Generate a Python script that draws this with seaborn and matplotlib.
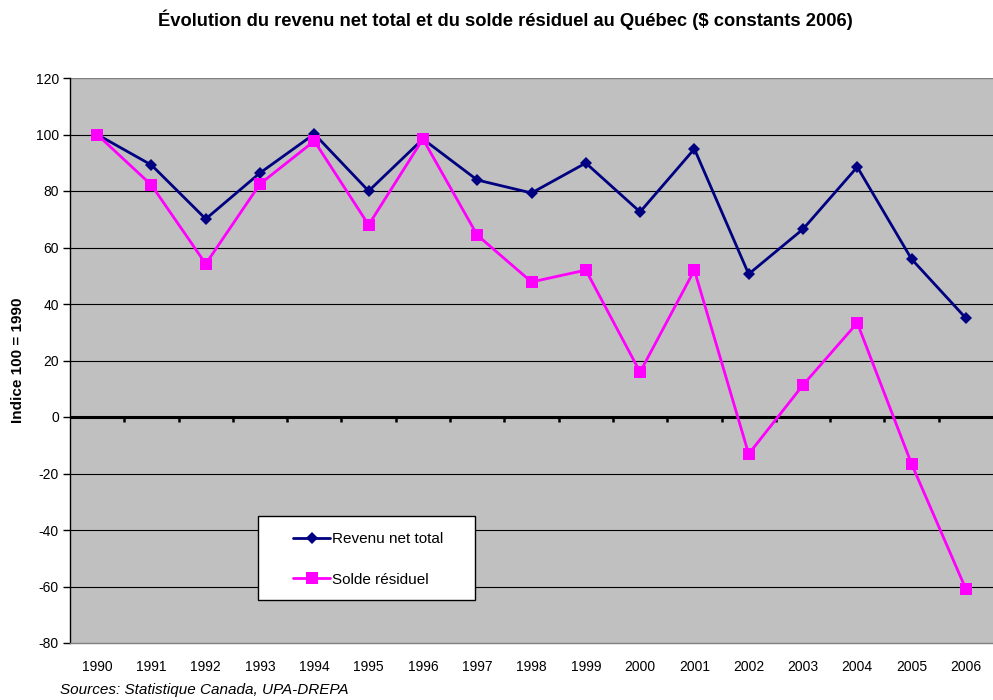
import matplotlib
matplotlib.use("Agg")
import matplotlib.pyplot as plt
import seaborn as sns
import pandas as pd
import numpy as np
from matplotlib.lines import Line2D
from matplotlib.patches import Rectangle

years = [str(y) for y in range(1990, 2007)]
revenu = [100, 89.2, 70.1, 86.4, 100.2, 80.0, 98.4, 83.9, 79.3, 89.9, 72.6, 94.9, 50.6, 66.5, 88.5, 55.9, 35.0]
solde = [100, 82.1, 54.2, 82.5, 97.7, 68.0, 98.4, 64.4, 47.8, 52.0, 15.9, 52.0, -13.1, 11.3, 33.3, -16.6, -60.9]
series_names = ["Revenu net total", "Solde résiduel"]
yticks = list(range(-80, 121, 20))

sns.set_theme(style="white")
plt.rcParams['font.family'] = ['Liberation Sans', 'DejaVu Sans']
plt.rcParams['text.color'] = 'black'
plt.rcParams['axes.labelcolor'] = 'black'
plt.rcParams['xtick.color'] = 'black'
plt.rcParams['ytick.color'] = 'black'

df = pd.DataFrame({
    "x": list(range(len(years))) * 2,
    "val": revenu + solde,
    "serie": [series_names[0]] * len(years) + [series_names[1]] * len(years),
})

W, H = 993, 700
L, R, T, B = 70, 993, 78, 643
fig = plt.figure(figsize=(W/100, H/100), dpi=100)
ax = fig.add_axes([L/W, 1-B/H, (R-L)/W, (B-T)/H])
ax.set_facecolor("#C0C0C0")

def ax_x(px):
    return (px - L) / (R - L)

def ax_y(py):
    return (B - py) / (B - T)

sns.lineplot(data=df, x="x", y="val", hue="serie", style="serie",
             palette={series_names[0]: "#000080", series_names[1]: "#FF00FF"},
             markers={series_names[0]: "D", series_names[1]: "s"},
             dashes=False, linewidth=2, ax=ax, legend=False)
for line, ms in zip(ax.lines, [6, 9]):
    line.set_markersize(ms)
    line.set_markeredgewidth(0)
    line.set_zorder(3)

ax.set_xlim(-0.5, len(years) - 0.5)
ax.set_ylim(-80, 120)
ax.set_yticks(yticks)
ax.set_yticklabels([str(t) for t in yticks], fontsize=10)
ax.set_xticks(range(len(years)))
ax.set_xticklabels(years, fontsize=10)
ax.tick_params(axis="x", length=0, pad=12, labelcolor="black")
ax.tick_params(axis="y", length=5, width=1, direction="out", color="black", left=True, pad=3,
               labelcolor="black")

for t in yticks:
    if t not in (-80, 0, 120):
        ax.axhline(t, color="#000000", linewidth=0.8, zorder=0.5)
ax.axhline(0, color="black", linewidth=2.2, zorder=1.5)
ax.vlines(np.arange(0.5, len(years) - 0.5, 1), -1.8, 0, color="black", linewidth=1.8, zorder=1.5)

for s in ["top", "right"]:
    ax.spines[s].set_visible(False)
ax.spines["left"].set_color("black")
ax.spines["left"].set_linewidth(1)
ax.spines["bottom"].set_color("#808080")
ax.spines["bottom"].set_linewidth(1)
ax.axhline(120, color="#808080", linewidth=1)

ax.set_xlabel("")
ax.set_ylabel("")

# legend box
ax.add_patch(Rectangle((ax_x(258), ax_y(600)), ax_x(475) - ax_x(258), ax_y(516) - ax_y(600),
                       transform=ax.transAxes, facecolor="white", edgecolor="black",
                       linewidth=1, zorder=4))
handles = [Line2D([], [], color="#000080", marker="D", markersize=6, linewidth=2, markeredgewidth=0),
           Line2D([], [], color="#FF00FF", marker="s", markersize=9, linewidth=2, markeredgewidth=0)]
leg = ax.legend(handles, series_names, loc="upper left",
                bbox_to_anchor=(ax_x(293), ax_y(532)),
                fontsize=11, frameon=False,
                borderpad=0, labelspacing=1.75, handlelength=2.45, handletextpad=0.1,
                borderaxespad=0)
leg.set_zorder(5)

fig.text(505/W, 1-20/H, "Évolution du revenu net total et du solde résiduel au Québec ($ constants 2006)",
         ha="center", va="center", fontsize=13.2, fontweight="bold", color="black")
fig.text(18/W, 1-360/H, "Indice 100 = 1990", rotation=90, ha="center", va="center",
         fontsize=11, fontweight="bold", color="black")
fig.text(60/W, 1-690/H, "Sources: Statistique Canada, UPA-DREPA", ha="left", va="center",
         fontsize=11, style="italic", color="black")

fig.savefig("out.png", dpi=100)
